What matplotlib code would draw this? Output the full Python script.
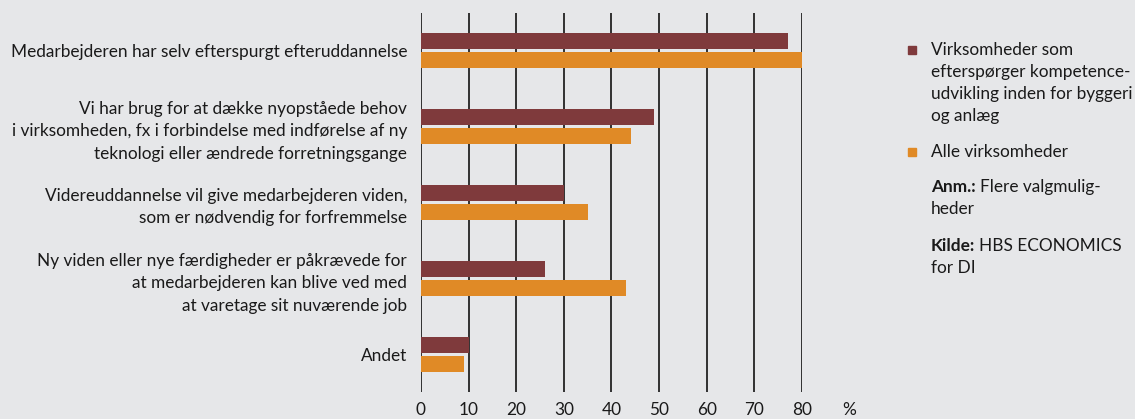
import matplotlib
matplotlib.use('Agg')
import matplotlib.pyplot as plt
import numpy as np

# Data (share of firms, %)
categories = [
    'Medarbejderen har selv efterspurgt efteruddannelse',
    'Vi har brug for at dække nyopståede behov\ni virksomheden, fx i forbindelse med indførelse af ny\nteknologi eller ændrede forretningsgange',
    'Videreuddannelse vil give medarbejderen viden,\nsom er nødvendig for forfremmelse',
    'Ny viden eller nye færdigheder er påkrævede for\nat medarbejderen kan blive ved med\nat varetage sit nuværende job',
    'Andet',
]
byggeri = [77, 49, 30, 26, 10]
alle = [80, 44, 35, 43, 9]
series_names = ['Virksomheder som\nefterspørger kompetence-\nudvikling inden for byggeri\nog anlæg',
                'Alle virksomheder']
xticks = [0, 10, 20, 30, 40, 50, 60, 70, 80]

bg = '#e6e7e9'
maroon = '#7f3a3c'
orange = '#e08a26'
txt = '#1a1a1a'
plt.rcParams['font.family'] = ['Lato', 'DejaVu Sans']
fs = 12.4

W, H = 1135, 419
fig = plt.figure(figsize=(W / 100, H / 100), dpi=100, facecolor=bg)
ax = fig.add_axes([421 / W, 1 - 392 / H, (802 - 421) / W, 379 / H])
ax.set_facecolor(bg)

y = np.arange(len(categories))
ax.barh(y - 0.125, byggeri, height=0.21, color=maroon, zorder=3)
ax.barh(y + 0.125, alle, height=0.21, color=orange, zorder=3)

# vertical gridlines
for v in xticks:
    ax.axvline(v, color='#222222', lw=1.3, zorder=1)

ax.set_xlim(0, 80)
ax.set_ylim(len(categories) - 0.5, -0.5)
ax.set_yticks(y)
ax.set_yticklabels(categories, fontsize=fs, color=txt, linespacing=1.5)
ax.set_xticks(xticks)
ax.set_xticklabels([str(v) for v in xticks], fontsize=fs, color=txt)
ax.tick_params(axis='both', length=0)
ax.tick_params(axis='y', pad=10)
ax.tick_params(axis='x', pad=7)
for s in ax.spines.values():
    s.set_visible(False)

fig.text(849 / W, 1 - 410 / H, '%', fontsize=fs, color=txt, ha='center', va='center')

# Legend and notes on the right
lx = 931 / W
mx = 912 / W
fig.patches.append(plt.Rectangle((mx - 4 / W, 1 - 54 / H), 8 / W, 8 / H,
                                 transform=fig.transFigure, color=maroon))
fig.text(lx, 1 - 42 / H, series_names[0], fontsize=fs, color=txt, va='top',
         linespacing=1.45)
fig.patches.append(plt.Rectangle((mx - 4 / W, 1 - 156 / H), 8 / W, 8 / H,
                                 transform=fig.transFigure, color=orange))
fig.text(lx, 1 - 152 / H, series_names[1], fontsize=fs, color=txt, va='center')

renderer = fig.canvas.get_renderer()


def note(ypix, bold, rest):
    first, second = rest.split('\n')
    t = fig.text(lx, 1 - ypix / H, bold, fontsize=fs, color=txt, va='center', fontweight='bold')
    w = t.get_window_extent(renderer).width
    fig.text(lx + (w + 4) / W, 1 - ypix / H, first, fontsize=fs, color=txt, va='center')
    fig.text(lx, 1 - (ypix + 22) / H, second, fontsize=fs, color=txt, va='center')


note(187, 'Anm.:', 'Flere valgmulig-\nheder')
note(246, 'Kilde:', 'HBS ECONOMICS\nfor DI')

fig.savefig('out.png', dpi=100, facecolor=bg)
